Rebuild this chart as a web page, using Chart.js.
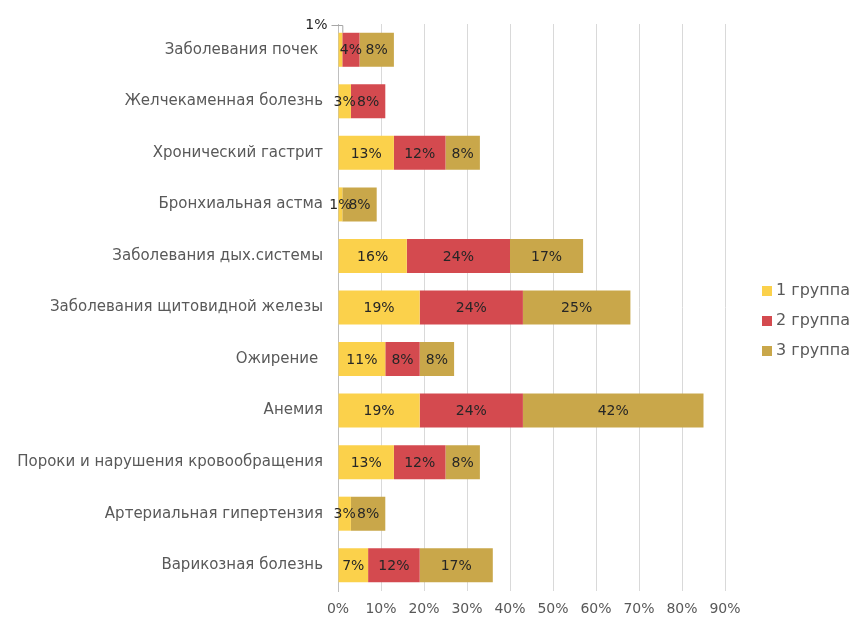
<!DOCTYPE html>
<html lang="ru">
<head>
<meta charset="utf-8">
<script src="https://cdn.jsdelivr.net/npm/chart.js@4"></script>
<style>
  html, body { margin: 0; padding: 0; background: #ffffff; }
  #wrap { position: relative; width: 856px; height: 617px; }
</style>
</head>
<body>
<div id="wrap"><canvas id="chart"></canvas></div>
<script>
const CATEGORIES = [
  "Заболевания почек ",
  "Желчекаменная болезнь",
  "Хронический гастрит",
  "Бронхиальная астма",
  "Заболевания дых.системы",
  "Заболевания щитовидной железы",
  "Ожирение ",
  "Анемия",
  "Пороки и нарушения кровообращения",
  "Артериальная гипертензия",
  "Варикозная болезнь",
];
const GROUP_1 = [1, 3, 13, 1, 16, 19, 11, 19, 13, 3, 7];
const GROUP_2 = [4, 8, 12, 0, 24, 24, 8, 24, 12, 0, 12];
const GROUP_3 = [8, 0, 8, 8, 17, 25, 8, 42, 8, 8, 17];
const SERIES_NAMES = ["1 группа", "2 группа", "3 группа"];
const COLORS = ["#fbd14b", "#d44a4f", "#c9a74a"];
const X_TICKS = [0, 10, 20, 30, 40, 50, 60, 70, 80, 90];

const FONT = "'DejaVu Sans', sans-serif";
const TEXT_GREY = "#595959";

// value labels centred in each segment; the tiny first one gets a callout above the plot
const segmentLabels = {
  id: "segmentLabels",
  afterDatasetsDraw(chart) {
    const { ctx, chartArea } = chart;
    ctx.save();
    ctx.font = `14px ${FONT}`;
    ctx.fillStyle = "#262626";
    ctx.textBaseline = "middle";
    chart.data.datasets.forEach((dataset, di) => {
      chart.getDatasetMeta(di).data.forEach((bar, i) => {
        const value = dataset.data[i];
        if (!value) return;
        const text = `${value}%`;
        if (di === 0 && i === 0) {
          const y = chartArea.top + 1;
          ctx.textAlign = "right";
          ctx.fillText(text, bar.base - 11, y);
          ctx.strokeStyle = "#a6a6a6";
          ctx.lineWidth = 1;
          ctx.beginPath();
          ctx.moveTo(bar.base - 7, y + 0.5);
          ctx.lineTo(bar.x + 0.5, y + 0.5);
          ctx.lineTo(bar.x + 0.5, bar.y - bar.height / 2);
          ctx.stroke();
          return;
        }
        ctx.textAlign = "center";
        ctx.fillText(text, (bar.base + bar.x) / 2, bar.y + 1);
      });
    });
    ctx.restore();
  },
};

const sideLegend = {
  id: "sideLegend",
  afterDraw(chart) {
    const { ctx } = chart;
    ctx.save();
    ctx.font = `16px ${FONT}`;
    ctx.textBaseline = "middle";
    ctx.textAlign = "left";
    chart.data.datasets.forEach((dataset, di) => {
      const y = 291 + di * 30;
      ctx.fillStyle = dataset.backgroundColor;
      ctx.fillRect(762, y - 5, 10, 10);
      ctx.fillStyle = TEXT_GREY;
      ctx.fillText(dataset.label, 776, y);
    });
    ctx.restore();
  },
};

const datasets = [GROUP_1, GROUP_2, GROUP_3].map((values, k) => ({
  label: SERIES_NAMES[k],
  data: values,
  backgroundColor: COLORS[k],
  borderWidth: 0,
  barPercentage: 0.66,
  categoryPercentage: 1,
}));

new Chart(document.getElementById("chart"), {
  type: "bar",
  data: { labels: CATEGORIES, datasets },
  options: {
    indexAxis: "y",
    responsive: true,
    maintainAspectRatio: false,
    animation: false,
    layout: { padding: { top: 24, right: 131, bottom: 0, left: 0 } },
    plugins: { legend: { display: false }, tooltip: { enabled: false } },
    scales: {
      x: {
        stacked: true,
        min: 0,
        max: 90,
        afterBuildTicks: (scale) => { scale.ticks = X_TICKS.map((value) => ({ value })); },
        afterFit: (scale) => { scale.height = 26; },
        grid: { color: "#d9d9d9", drawTicks: false },
        border: { display: false },
        ticks: { color: TEXT_GREY, font: { family: FONT, size: 14 }, padding: 10, callback: (v) => `${v}%` },
      },
      y: {
        stacked: true,
        afterFit: (scale) => { scale.width = 338; },
        grid: { display: false },
        border: { color: "#bfbfbf" },
        ticks: { color: TEXT_GREY, font: { family: FONT, size: 15 }, padding: 7 },
      },
    },
  },
  plugins: [segmentLabels, sideLegend],
});
</script>
</body>
</html>
